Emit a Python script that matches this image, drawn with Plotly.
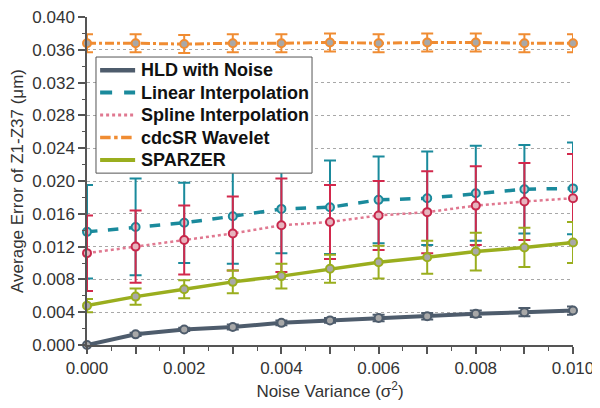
import plotly.graph_objects as go

x_vals = [0.000, 0.001, 0.002, 0.003, 0.004, 0.005, 0.006, 0.007, 0.008, 0.009, 0.010]

hld = [0.0000, 0.0013, 0.0019, 0.0022, 0.0027, 0.0030, 0.0033, 0.0035, 0.0038, 0.0040, 0.0042]
hld_err = [0.0001, 0.0002, 0.0002, 0.0003, 0.0003, 0.0003, 0.0004, 0.0004, 0.0004, 0.0005, 0.0005]

linear = [0.0138, 0.0144, 0.0149, 0.0157, 0.0166, 0.0168, 0.0177, 0.0179, 0.0185, 0.0190, 0.0191]
linear_err = [0.0057, 0.0059, 0.0049, 0.0058, 0.0054, 0.0057, 0.0053, 0.0057, 0.0058, 0.0054, 0.0056]

spline = [0.0112, 0.0120, 0.0128, 0.0136, 0.0146, 0.0150, 0.0158, 0.0162, 0.0170, 0.0175, 0.0179]
spline_err = [0.0046, 0.0044, 0.0042, 0.0045, 0.0057, 0.0045, 0.0042, 0.0050, 0.0048, 0.0047, 0.0054]

cdcsr = [0.0368, 0.0368, 0.0367, 0.0368, 0.0368, 0.0369, 0.0368, 0.0369, 0.0369, 0.0368, 0.0368]
cdcsr_err = [0.0011, 0.0011, 0.0011, 0.0011, 0.0011, 0.0011, 0.0011, 0.0011, 0.0011, 0.0011, 0.0011]

sparzer = [0.0048, 0.0059, 0.0068, 0.0077, 0.0084, 0.0093, 0.0101, 0.0107, 0.0114, 0.0119, 0.0125]
sparzer_err = [0.0008, 0.0010, 0.0011, 0.0014, 0.0015, 0.0017, 0.0020, 0.0020, 0.0023, 0.0024, 0.0025]

x_tickvals = [0.000, 0.001, 0.002, 0.003, 0.004, 0.005, 0.006, 0.007, 0.008, 0.009, 0.010]
x_ticktext = ["0.000", "", "0.002", "", "0.004", "", "0.006", "", "0.008", "", "0.010"]

legend_order = ["HLD with Noise", "Linear Interpolation", "Spline Interpolation", "cdcSR Wavelet", "SPARZER"]

series = [
    # name, y, err, line color, line dash, line width, err color, marker fill, marker line
    ("Linear Interpolation", linear, linear_err, "#1a8a9c", "dash", 3.5, "#1a8a9c", "#b9cdd2", "#1a8a9c"),
    ("Spline Interpolation", spline, spline_err, "#e07890", "dot", 2.5, "#d2284c", "#e6b4be", "#c8284c"),
    ("cdcSR Wavelet", cdcsr, cdcsr_err, "#f08c32", "dashdot", 3, "#f08c32", "#a8a8a8", "#f08c32"),
    ("SPARZER", sparzer, sparzer_err, "#9aae1e", "solid", 3.5, "#9aae1e", "#a8a8a8", "#9aae1e"),
    ("HLD with Noise", hld, hld_err, "#4e5c6c", "solid", 4, "#4e5c6c", "#a8a8a8", "#4e5c6c"),
]

fig = go.Figure()
for name, y, err, lc, dash, lw, ec, mf, ml in series:
    fig.add_trace(go.Scatter(
        x=x_vals, y=y, mode="lines+markers", name=name, showlegend=False,
        line=dict(color=lc, dash=dash, width=lw),
        marker=dict(size=8, color=mf, line=dict(color=ml, width=2)),
        error_y=dict(type="data", array=err, visible=True, color=ec, thickness=2, width=6),
        cliponaxis=False,
    ))

# invisible trace to carry the minor-tick overlay axis
fig.add_trace(go.Scatter(x=[None], y=[None], yaxis="y2", showlegend=False, hoverinfo="skip"))

# hand-built legend (box, line samples, labels) placed in paper coordinates
lookup = {s[0]: s for s in series}
box_x0, box_x1, box_y0, box_y1 = 0.0185, 0.463, 0.524, 0.878
shapes = [dict(type="rect", xref="paper", yref="paper", x0=box_x0, x1=box_x1, y0=box_y0, y1=box_y1,
               fillcolor="white", line=dict(color="#555555", width=1), layer="above")]
annotations = []
row_y0, row_step = 0.838, 0.0685
for i, name in enumerate(legend_order):
    s = lookup[name]
    ry = row_y0 - i * row_step
    shapes.append(dict(type="line", xref="paper", yref="paper", x0=0.027, x1=0.099, y0=ry, y1=ry,
                       line=dict(color=s[3], dash=s[4], width=s[5] + 0.5), layer="above"))
    annotations.append(dict(text="<b>" + name + "</b>", xref="paper", yref="paper", x=0.106, y=ry,
                            xanchor="left", yanchor="middle", showarrow=False,
                            font=dict(family="Liberation Sans, Arial, sans-serif", size=18, color="#111111")))

font_family = "Liberation Sans, Arial, sans-serif"
fig.update_layout(
    width=592, height=400,
    margin=dict(l=79, r=27, t=9, b=63),
    paper_bgcolor="white", plot_bgcolor="white",
    font=dict(family=font_family, color="#333333", size=16),
    showlegend=False,
    shapes=shapes, annotations=annotations,
    xaxis=dict(
        range=[0, 0.010], tickvals=x_tickvals, ticktext=x_ticktext,
        showgrid=False, zeroline=False, automargin=False, ticklabeloverflow="allow",
        showline=True, linecolor="#555555", linewidth=1.5,
        ticks="outside", ticklen=7, tickcolor="#555555", tickwidth=1.5,
        minor=dict(dtick=0.0005, ticks="outside", ticklen=4, tickcolor="#555555", tickwidth=1.2, showgrid=False),
        tickfont=dict(size=17, color="#333333"),
        title=dict(text="Noise Variance (σ<sup>2</sup>)", font=dict(size=17, color="#333333"), standoff=8),
    ),
    yaxis=dict(
        range=[0, 0.040], tickmode="linear", tick0=0, dtick=0.004, tickformat=".3f",
        showgrid=True, gridcolor="#a8a8a8", griddash="dot", gridwidth=1,
        zeroline=False, automargin=False, ticklabeloverflow="allow",
        showline=True, linecolor="#555555", linewidth=1.5,
        ticks="outside", ticklen=7, tickcolor="#555555", tickwidth=1.5,
        tickfont=dict(size=17, color="#333333"),
        title=dict(text="Average Error of Z1-Z37 (μm)", font=dict(size=17, color="#333333")),
    ),
    yaxis2=dict(
        range=[0, 0.040], overlaying="y", side="left", tickmode="linear", tick0=0, dtick=0.002,
        showgrid=False, zeroline=False, showline=False, showticklabels=False, automargin=False,
        ticks="outside", ticklen=4, tickcolor="#555555", tickwidth=1.2,
    ),
)

fig.write_html("out.html")
